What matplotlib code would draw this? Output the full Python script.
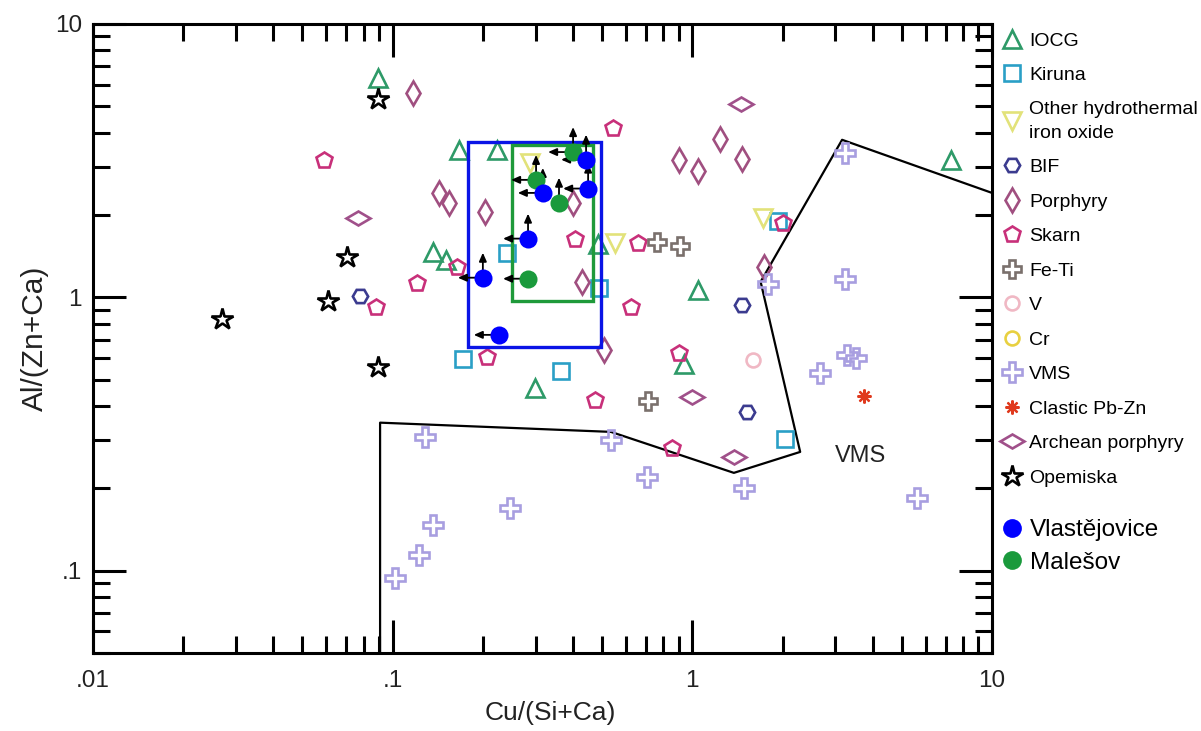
import numpy as np
import matplotlib
matplotlib.use('Agg')
from matplotlib import pyplot as plt
from matplotlib.markers import MarkerStyle
from matplotlib.patches import Rectangle
from matplotlib.lines import Line2D
from matplotlib.ticker import FixedLocator, FixedFormatter, LogLocator, NullFormatter
from matplotlib.transforms import offset_copy, Affine2D

plt.rcParams['font.family'] = ['Liberation Sans', 'DejaVu Sans']

# deposit-type reference data: Cu/(Si+Ca) vs Al/(Zn+Ca)
IOCG_X = [0.0893, 0.166, 0.223, 0.136, 0.151, 0.484, 1.044, 0.937, 0.298, 7.29]
IOCG_Y = [6.35, 3.46, 3.46, 1.47, 1.37, 1.57, 1.06, 0.571, 0.467, 3.18]

KIRUNA_X = [0.241, 0.488, 0.172, 0.364, 1.93, 2.04]
KIRUNA_Y = [1.45, 1.08, 0.596, 0.539, 1.90, 0.302]

OTHER_X = [0.288, 0.552, 1.72]
OTHER_Y = [3.11, 1.58, 1.95]

BIF_X = [0.0778, 1.466, 1.52]
BIF_Y = [1.01, 0.94, 0.381]

PORPHYRY_X = [0.117, 0.1426, 0.154, 0.203, 0.40, 0.428, 0.507, 0.903, 1.044, 1.237, 1.466, 1.73]
PORPHYRY_Y = [5.6, 2.41, 2.22, 2.06, 2.22, 1.14, 0.643, 3.18, 2.90, 3.80, 3.21, 1.29]

SKARN_X = [0.059, 0.0879, 0.1206, 0.164, 0.206, 0.405, 0.543, 0.658, 0.624, 0.903, 0.473, 0.855, 2.0]
SKARN_Y = [3.17, 0.923, 1.13, 1.29, 0.605, 1.64, 4.17, 1.58, 0.923, 0.627, 0.422, 0.282, 1.87]

FETI_X = [0.762, 0.909, 0.711]
FETI_Y = [1.60, 1.54, 0.418]

V_X = [1.59]
V_Y = [0.59]

CR_X = []
CR_Y = []

VMS_X = [3.23, 3.23, 1.79, 3.28, 3.52, 2.67, 0.128, 0.535, 0.706, 1.486, 5.62, 0.246, 0.136, 0.1224, 0.1018]
VMS_Y = [3.38, 1.17, 1.12, 0.617, 0.60, 0.53, 0.309, 0.30, 0.221, 0.201, 0.185, 0.169, 0.147, 0.114, 0.094]

PBZN_X = [3.74]
PBZN_Y = [0.436]

ARCHEAN_X = [1.45, 0.0766, 0.995, 1.376]
ARCHEAN_Y = [5.1, 1.95, 0.433, 0.26]

OPEMISKA_X = [0.0893, 0.0704, 0.0608, 0.0269, 0.0893]
OPEMISKA_Y = [5.32, 1.41, 0.97, 0.834, 0.557]

# samples of this study; arrows mark values below detection limits
VLAS_X = [0.442, 0.449, 0.317, 0.283, 0.200, 0.226]
VLAS_Y = [3.19, 2.50, 2.41, 1.64, 1.18, 0.729]
VLAS_LEFT = [True, True, True, True, True, True]
VLAS_UP = [True, True, True, True, True, False]

MALE_X = [0.40, 0.301, 0.359, 0.283]
MALE_Y = [3.40, 2.69, 2.22, 1.17]
MALE_LEFT = [True, True, False, True]
MALE_UP = [True, True, True, False]

# sample ranges
VLAS_BOX = (0.178, 0.496, 0.659, 3.70)
MALE_BOX = (0.25, 0.466, 0.97, 3.61)

# VMS field outline
VMS_FIELD_X = [0.0908, 0.0908, 0.535, 1.376, 2.29, 1.69, 3.16, 10.0]
VMS_FIELD_Y = [0.05, 0.348, 0.322, 0.228, 0.272, 1.14, 3.77, 2.41]

X_TICKS = [0.01, 0.1, 1, 10]
X_TICK_LABELS = ['.01', '.1', '1', '10']
Y_TICKS = [0.1, 1, 10]
Y_TICK_LABELS = ['.1', '1', '10']

wide_diamond = MarkerStyle('d', transform=Affine2D().rotate_deg(90))

SERIES = [
    ('IOCG', IOCG_X, IOCG_Y, '^', '#2e9a68', 13),
    ('Kiruna', KIRUNA_X, KIRUNA_Y, 's', '#2a9fc6', 12),
    ('Other hydrothermal\niron oxide', OTHER_X, OTHER_Y, 'v', '#e2e27a', 13),
    ('BIF', BIF_X, BIF_Y, 'H', '#3b3b8f', 11),
    ('Porphyry', PORPHYRY_X, PORPHYRY_Y, 'd', '#a04f80', 12.5),
    ('Skarn', SKARN_X, SKARN_Y, 'p', '#c8307a', 12),
    ('Fe-Ti', FETI_X, FETI_Y, 'P', '#7a706c', 13.5),
    ('V', V_X, V_Y, 'o', '#f0b8c4', 10),
    ('Cr', CR_X, CR_Y, 'o', '#e8d040', 10),
    ('VMS', VMS_X, VMS_Y, 'P', '#a89ee0', 14.5),
    ('Clastic Pb-Zn', PBZN_X, PBZN_Y, (8, 2, 0), '#e03a1e', 10),
    ('Archean porphyry', ARCHEAN_X, ARCHEAN_Y, wide_diamond, '#a0508a', 12),
    ('Opemiska', OPEMISKA_X, OPEMISKA_Y, '*', 'black', 16),
]


def add_arrows(ax, fig, xs, ys, left, up, length=18):
    left_tr = offset_copy(ax.transData, fig=fig, x=-length, y=0, units='points')
    up_tr = offset_copy(ax.transData, fig=fig, x=0, y=length, units='points')
    props = dict(arrowstyle='-|>,head_length=0.5,head_width=0.22', color='black',
                 lw=1.3, shrinkA=0, shrinkB=0)
    for x, y, l, u in zip(xs, ys, left, up):
        if l:
            ax.annotate('', xy=(x, y), xycoords=left_tr, xytext=(x, y),
                        textcoords=ax.transData, arrowprops=props, zorder=6)
        if u:
            ax.annotate('', xy=(x, y), xycoords=up_tr, xytext=(x, y),
                        textcoords=ax.transData, arrowprops=props, zorder=6)


def plot_diagram():
    fig = plt.figure(figsize=(12.01, 7.31), dpi=100)
    ax = fig.add_axes([0.0774, 0.1067, 0.7486, 0.8605])
    ax.set_xscale('log')
    ax.set_yscale('log')

    handles = []
    for label, xs, ys, marker, color, ms in SERIES:
        face = 'white' if label == 'Opemiska' else 'none'
        mew = 1.6 if label == 'Clastic Pb-Zn' else 1.9
        ax.plot(xs, ys, ls='none', marker=marker, ms=ms, mfc=face,
                mec=color, mew=mew, color=color, zorder=3)
        handles.append(Line2D([], [], ls='none', marker=marker, ms=ms,
                              mfc=face, mec=color, mew=mew, label=label))

    ax.plot(VMS_FIELD_X, VMS_FIELD_Y, color='black', lw=1.6, zorder=2)
    ax.text(2.98, 0.263, 'VMS', fontsize=17, color='#222222', va='center')

    for (x0, x1, y0, y1), color in ((VLAS_BOX, '#0a14e6'), (MALE_BOX, '#1f9a3a')):
        ax.add_patch(Rectangle((x0, y0), x1 - x0, y1 - y0, fill=False,
                               ec=color, lw=2.4, zorder=4))

    add_arrows(ax, fig, MALE_X, MALE_Y, MALE_LEFT, MALE_UP)
    add_arrows(ax, fig, VLAS_X, VLAS_Y, VLAS_LEFT, VLAS_UP)
    ax.plot(MALE_X, MALE_Y, ls='none', marker='o', ms=13, color='#1a9a3c', mec='none', zorder=7)
    ax.plot(VLAS_X, VLAS_Y, ls='none', marker='o', ms=13, color='#0000ff', mec='none', zorder=8)

    ax.set_xlim(0.01, 10)
    ax.set_ylim(0.05, 10)
    ax.xaxis.set_major_locator(FixedLocator(X_TICKS))
    ax.xaxis.set_major_formatter(FixedFormatter(X_TICK_LABELS))
    ax.yaxis.set_major_locator(FixedLocator(Y_TICKS))
    ax.yaxis.set_major_formatter(FixedFormatter(Y_TICK_LABELS))
    for axis in (ax.xaxis, ax.yaxis):
        axis.set_minor_locator(LogLocator(base=10, subs=np.arange(2, 10)))
        axis.set_minor_formatter(NullFormatter())
    ax.tick_params(which='major', direction='in', length=24, width=2.2,
                   top=True, right=True, labelsize=17.5, labelcolor='#222222')
    ax.tick_params(axis='x', which='major', pad=12)
    ax.tick_params(axis='y', which='major', pad=8)
    ax.tick_params(which='minor', direction='in', length=12, width=2.2,
                   top=True, right=True)
    for spine in ax.spines.values():
        spine.set_linewidth(2.2)

    ax.set_xlabel('Cu/(Si+Ca)', fontsize=19, color='#222222')
    ax.xaxis.set_label_coords(0.509, -0.077)
    ax.set_ylabel('Al/(Zn+Ca)', fontsize=21.5, color='#222222', labelpad=4)

    leg = fig.legend(handles=handles, loc='upper left',
                     bbox_to_anchor=(1001 / 1201, 1 - 32 / 731),
                     frameon=False, fontsize=14, borderpad=0, borderaxespad=0,
                     handlelength=1.1, handletextpad=0.35, labelspacing=0.87)
    for text in leg.get_texts():
        text.set_linespacing(1.5)
    own = [Line2D([], [], ls='none', marker='o', ms=13.5, color='#0000ff', mec='none',
                  label='Vlastějovice'),
           Line2D([], [], ls='none', marker='o', ms=13.5, color='#1a9a3c', mec='none',
                  label='Malešov')]
    fig.legend(handles=own, loc='upper left', bbox_to_anchor=(1003 / 1201, 1 - 519 / 731),
               frameon=False, fontsize=17.5, borderpad=0, borderaxespad=0,
               handlelength=0.75, handletextpad=0.35, labelspacing=0.45)

    fig.savefig('out.png', dpi=100)


if __name__ == '__main__':
    plot_diagram()
